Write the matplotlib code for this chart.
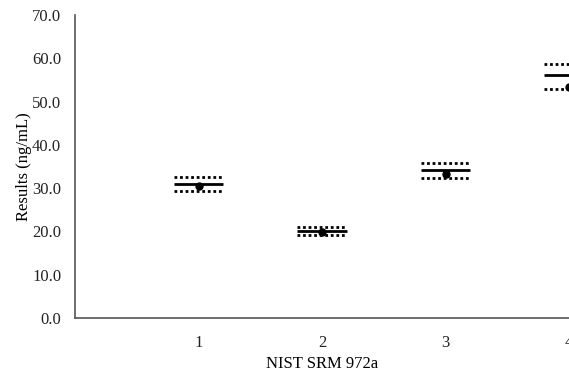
import matplotlib
matplotlib.use("Agg")
import matplotlib.pyplot as plt

plt.rcParams['font.family'] = ['Liberation Serif', 'DejaVu Serif']

samples = [1, 2, 3, 4]
results = [30.5, 19.9, 33.3, 53.4]
certified = [30.9, 20.1, 34.2, 56.2]
upper = [32.6, 21.1, 35.7, 58.7]
lower = [29.3, 19.2, 32.3, 52.9]
yticks = [0, 10, 20, 30, 40, 50, 60, 70]

fig = plt.figure(figsize=(5.69, 3.71), dpi=100)
ax = fig.add_axes([75 / 569, (371 - 318) / 371, 494 / 569, 303 / 371])

hw = 0.2
for x, c, u, l in zip(samples, certified, upper, lower):
    ax.hlines(c, x - hw, x + hw, colors='black', linewidth=2)
    ax.hlines([u, l], x - hw, x + hw, colors='black', linewidth=2, linestyles=(0, (1, 1)))
ax.plot(samples, results, 'o', color='black', markersize=5, linestyle='none')

ax.set_xlim(0, 4)
ax.set_ylim(0, 70)
ax.set_xticks(samples)
ax.set_yticks(yticks)
ax.set_yticklabels([f"{v:.1f}" for v in yticks])
ax.tick_params(length=0, labelsize=12, colors='#222222')
ax.tick_params(axis='y', pad=10)
ax.tick_params(axis='x', pad=12)
for s in ['top', 'right']:
    ax.spines[s].set_visible(False)
for s in ['left', 'bottom']:
    ax.spines[s].set_color('#555555')
    ax.spines[s].set_linewidth(1.2)
ax.set_xlabel('NIST SRM 972a', fontsize=12, labelpad=4)
ax.set_ylabel('Results (ng/mL)', fontsize=12, labelpad=0)

fig.savefig('out.png', dpi=100)
